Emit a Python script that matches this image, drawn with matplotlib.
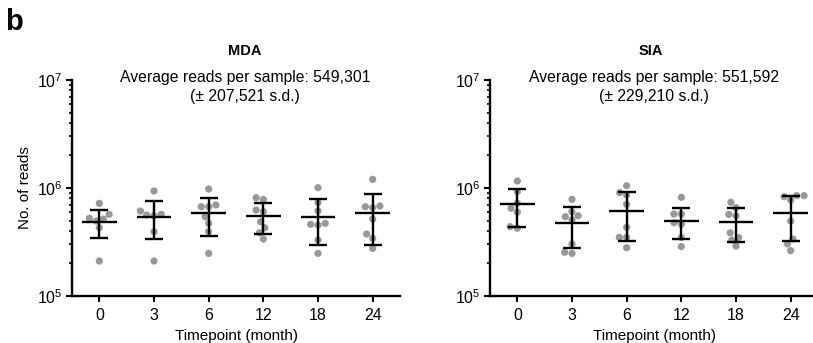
import numpy as np
import matplotlib
matplotlib.use('Agg')
import matplotlib.pyplot as plt
from matplotlib.ticker import LogLocator, NullFormatter

plt.rcParams['font.family'] = ['Liberation Sans', 'DejaVu Sans']

# ---------------- data (reads per sample) ----------------
timepoints = ['0', '3', '6', '12', '18', '24']

mda_reads = [
    [721e3, 570e3, 516e3, 524e3, 494e3, 428e3, 211e3],
    [938e3, 612e3, 562e3, 554e3, 570e3, 394e3, 211e3],
    [979e3, 671e3, 671e3, 696e3, 542e3, 471e3, 394e3, 248e3],
    [785e3, 814e3, 604e3, 625e3, 487e3, 428e3, 385e3, 337e3],
    [1006e3, 731e3, 612e3, 461e3, 454e3, 471e3, 330e3, 248e3],
    [1203e3, 671e3, 658e3, 681e3, 516e3, 375e3, 342e3, 276e3],
]
mda_mean = [487e3, 542e3, 583e3, 554e3, 542e3, 590e3]
mda_sd = [143e3, 208e3, 220e3, 175e3, 244e3, 291e3]

sia_reads = [
    [1161e3, 925e3, 649e3, 721e3, 596e3, 424e3, 438e3],
    [785e3, 604e3, 542e3, 506e3, 554e3, 303e3, 248e3, 254e3],
    [1050e3, 906e3, 861e3, 706e3, 432e3, 349e3, 349e3, 280e3],
    [820e3, 574e3, 574e3, 461e3, 477e3, 347e3, 287e3],
    [737e3, 658e3, 554e3, 570e3, 385e3, 347e3, 330e3, 290e3],
    [849e3, 774e3, 831e3, 849e3, 494e3, 337e3, 303e3, 263e3],
]
sia_mean = [706e3, 471e3, 617e3, 498e3, 487e3, 583e3]
sia_sd = [267e3, 190e3, 297e3, 160e3, 168e3, 263e3]

mda_title = 'MDA'
mda_note = 'Average reads per sample: 549,301\n(\u00b1 207,521 s.d.)'
sia_title = 'SIA'
sia_note = 'Average reads per sample: 551,592\n(\u00b1 229,210 s.d.)'

# ---------------- figure ----------------
W, H = 813, 343
fig = plt.figure(figsize=(W / 100, H / 100), dpi=100)

DOT = '#98989c'
SWARM_D = 7.4  # px spacing between dot centres


def swarm_x(ax, xc, vals, d):
    pts = ax.transData.transform(np.column_stack([np.full(len(vals), xc), vals]))
    ys = pts[:, 1]
    order = np.argsort(ys)
    placed = []
    offs = np.zeros(len(vals))
    for i in order:
        y = ys[i]
        forb = []
        for xo, yo in placed:
            dy = abs(y - yo)
            if dy < d:
                w = np.sqrt(d * d - dy * dy)
                forb.append((xo - w, xo + w))
        cands = [0.0] + [a for a, b in forb] + [b for a, b in forb]
        cands.sort(key=abs)
        c = 0.0
        for c in cands:
            if all(not (a + 1e-6 < c < b - 1e-6) for a, b in forb):
                break
        offs[i] = c
        placed.append((c, y))
    ppu = ax.transData.transform((1, 0))[0] - ax.transData.transform((0, 0))[0]
    return xc + offs / ppu


def panel(left_px, reads, mean, sd, ylabel=None):
    ax = fig.add_axes([left_px / W, (H - 296) / H, 328 / W, 216 / H])
    ax.set_yscale('log')
    ax.set_ylim(1e5, 1e7)
    ax.set_xlim(-0.5, 5.5)
    ax.yaxis.set_major_locator(LogLocator(base=10, numticks=5))
    ax.yaxis.set_minor_locator(LogLocator(base=10, subs=np.arange(2, 10), numticks=20))
    ax.yaxis.set_minor_formatter(NullFormatter())
    ax.set_xticks(range(len(timepoints)))
    ax.set_xticklabels(timepoints)
    for s in ['top', 'right']:
        ax.spines[s].set_visible(False)
    for s in ['left', 'bottom']:
        ax.spines[s].set_linewidth(1.7)
    ax.tick_params(axis='both', which='major', length=4, width=1.5,
                   labelsize=11.5, pad=3, direction='out')
    ax.tick_params(axis='y', which='minor', length=2.2, width=1.2)
    ax.tick_params(axis='x', pad=5)

    for i, vals in enumerate(reads):
        xs = swarm_x(ax, i, vals, SWARM_D)
        ax.scatter(xs, vals, s=27, color=DOT, edgecolors='none', zorder=2)
        m, e = mean[i], sd[i]
        ax.vlines(i, m - e, m + e, color='black', lw=1.7, zorder=3)
        ax.hlines([m - e, m + e], i - 0.165, i + 0.165, color='black', lw=1.7, zorder=3)
        ax.hlines(m, i - 0.32, i + 0.32, color='black', lw=1.7, zorder=3)

    ax.set_xlabel('Timepoint (month)', fontsize=11, labelpad=4)
    if ylabel:
        ax.set_ylabel(ylabel, fontsize=11, labelpad=3)
    return ax


ax1 = panel(72, mda_reads, mda_mean, mda_sd, ylabel='No. of reads')
ax2 = panel(490, sia_reads, sia_mean, sia_sd)

fig.text(245 / W, 1 - 51 / H, mda_title, ha='center', va='center',
         fontsize=10.5, fontweight='bold')
fig.text(245 / W, 1 - 87 / H, mda_note, ha='center', va='center',
         fontsize=11.3, linespacing=1.3, multialignment='center')
fig.text(651 / W, 1 - 51 / H, sia_title, ha='center', va='center',
         fontsize=10.5, fontweight='bold')
fig.text(654 / W, 1 - 87 / H, sia_note, ha='center', va='center',
         fontsize=11.3, linespacing=1.3, multialignment='center')

fig.text(5 / W, 1 - 22 / H, 'b', ha='left', va='center',
         fontsize=21, fontweight='bold')

fig.savefig('out.png', dpi=100)
